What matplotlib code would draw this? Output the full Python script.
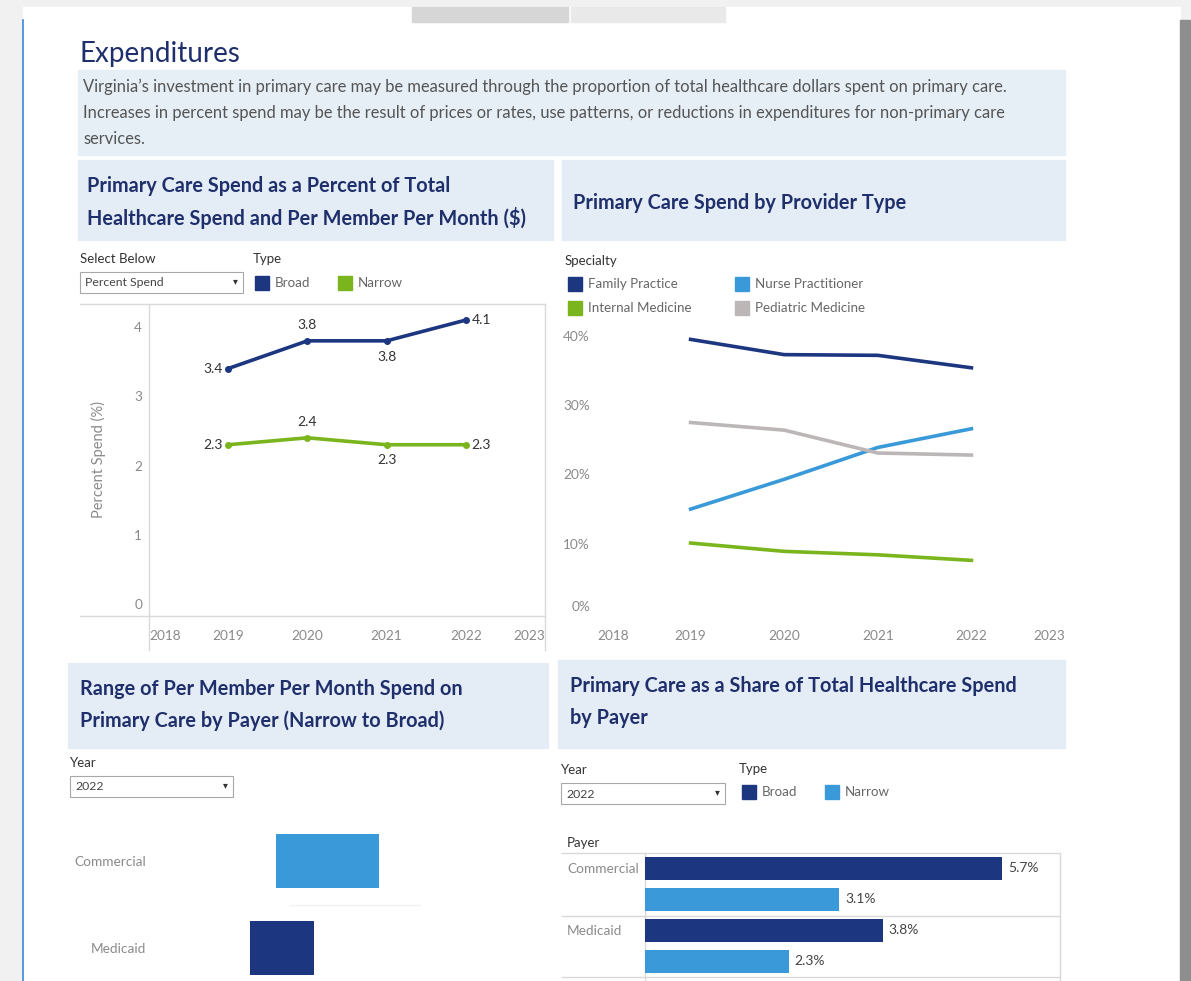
import matplotlib
matplotlib.use("Agg")
import matplotlib.pyplot as plt
from matplotlib.patches import Rectangle

plt.rcParams['font.family'] = ['Lato', 'DejaVu Sans']

# ---- data ----
years = [2019, 2020, 2021, 2022]
broad_pct = [3.4, 3.8, 3.8, 4.1]
narrow_pct = [2.3, 2.4, 2.3, 2.3]

specialties = ["Family Practice", "Nurse Practitioner", "Internal Medicine", "Pediatric Medicine"]
family_practice = [39.5, 37.3, 37.2, 35.4]
nurse_practitioner = [15.0, 19.3, 23.9, 26.6]
internal_medicine = [10.1, 8.9, 8.4, 7.6]
pediatric_medicine = [27.5, 26.4, 23.1, 22.8]

payers = ["Commercial", "Medicaid"]
pmpm_low = [21.2, 16.0]     # narrow end of the range ($)
pmpm_high = [41.8, 28.8]    # broad end of the range ($)

share_broad = [5.7, 3.8]
share_narrow = [3.1, 2.3]

NAVY = "#1d3680"
LBLUE = "#3a9ad9"
GREEN = "#7ab51d"
GRAY = "#bdb6b6"
TITLE = "#1f2f6b"
TFS = 14.3  # chart title size

W, H = 1191, 981
fig = plt.figure(figsize=(W / 100, H / 100), dpi=100)


def px_axes(x0, y0, x1, y1):
    return fig.add_axes([x0 / W, 1 - y1 / H, (x1 - x0) / W, (y1 - y0) / H])


# background / page drawing layer
bg = fig.add_axes([0, 0, 1, 1])
bg.set_xlim(0, W)
bg.set_ylim(H, 0)
bg.axis("off")
bg.add_patch(Rectangle((0, 0), W, H, color="#f1f1f1"))
bg.add_patch(Rectangle((23, 7), 1157, H, color="white"))
bg.add_patch(Rectangle((1180, 20), 11, H, color="#8e8e8e"))
bg.add_patch(Rectangle((412, 7), 156, 15, color="#d6d6d6"))
bg.add_patch(Rectangle((571, 7), 154, 15, color="#e9e9e9"))
bg.plot([23, 23], [20, H], color="#3a8ad9", lw=1.2)

# header
bg.text(79, 54, "Expenditures", fontsize=20, color=TITLE, va="center")
bg.add_patch(Rectangle((78, 70), 987, 85, color="#e6eff6"))
desc = ["Virginia\u2019s investment in primary care may be measured through the proportion of total healthcare dollars spent on primary care.",
        "Increases in percent spend may be the result of prices or rates, use patterns, or reductions in expenditures for non-primary care",
        "services."]
for i, line in enumerate(desc):
    bg.text(83, 87 + 26 * i, line, fontsize=11.9, color="#555555", va="center")

# title boxes
bg.add_patch(Rectangle((78, 160), 475, 80, color="#e4edf5"))
bg.text(87, 186, "Primary Care Spend as a Percent of Total", fontsize=TFS, fontweight="bold", color=TITLE, va="center")
bg.text(87, 218, "Healthcare Spend and Per Member Per Month ($)", fontsize=TFS, fontweight="bold", color=TITLE, va="center")
bg.add_patch(Rectangle((562, 160), 503, 80, color="#e4edf5"))
bg.text(573, 203, "Primary Care Spend by Provider Type", fontsize=TFS, fontweight="bold", color=TITLE, va="center")
bg.add_patch(Rectangle((68, 663), 480, 85, color="#e4edf5"))
bg.text(80, 689, "Range of Per Member Per Month Spend on", fontsize=TFS, fontweight="bold", color=TITLE, va="center")
bg.text(80, 721, "Primary Care by Payer (Narrow to Broad)", fontsize=TFS, fontweight="bold", color=TITLE, va="center")
bg.add_patch(Rectangle((558, 660), 507, 88, color="#e4edf5"))
bg.text(570, 686, "Primary Care as a Share of Total Healthcare Spend", fontsize=TFS, fontweight="bold", color=TITLE, va="center")
bg.text(570, 718, "by Payer", fontsize=TFS, fontweight="bold", color=TITLE, va="center")


def dropdown(x, y, w, label, value):
    bg.text(x, y - 13, label, fontsize=9.5, color="#333333", va="center")
    bg.add_patch(Rectangle((x, y), w, 21, facecolor="white", edgecolor="#a8a8a8", lw=0.8))
    bg.text(x + 5, y + 11, value, fontsize=8.8, color="#444444", va="center")
    bg.text(x + w - 8, y + 10, "\u25be", fontsize=7, color="#333333", va="center", ha="center")


def legend_item(x, y, color, label):
    bg.add_patch(Rectangle((x, y - 7), 14, 14, color=color))
    bg.text(x + 20, y, label, fontsize=9.6, color="#666666", va="center")


# top-left controls
dropdown(80, 272, 163, "Select Below", "Percent Spend")
bg.text(253, 259, "Type", fontsize=9.5, color="#333333", va="center")
legend_item(255, 283, NAVY, "Broad")
legend_item(338, 283, GREEN, "Narrow")

# top-right legend
bg.text(565, 261, "Specialty", fontsize=9.5, color="#333333", va="center")
legend_item(568, 284, NAVY, "Family Practice")
legend_item(735, 284, LBLUE, "Nurse Practitioner")
legend_item(568, 308, GREEN, "Internal Medicine")
legend_item(735, 308, GRAY, "Pediatric Medicine")

# bottom controls
dropdown(70, 776, 163, "Year", "2022")
dropdown(561, 783, 164, "Year", "2022")
bg.text(739, 769, "Type", fontsize=9.5, color="#333333", va="center")
legend_item(742, 792, NAVY, "Broad")
legend_item(825, 792, LBLUE, "Narrow")
bg.text(567, 843, "Payer", fontsize=9.5, color="#333333", va="center")

# frame lines of top-left chart
LN = "#d9d9d9"
bg.plot([80, 545], [304, 304], color=LN, lw=1)
bg.plot([80, 545], [616, 616], color=LN, lw=1)
bg.plot([149, 149], [304, 650], color=LN, lw=1)
bg.plot([545, 545], [304, 650], color=LN, lw=1)

# table lines of bottom-right chart
bg.plot([562, 1060], [853, 853], color=LN, lw=1)
bg.plot([562, 1060], [916, 916], color=LN, lw=1)
bg.plot([562, 1060], [977, 977], color=LN, lw=1)
bg.plot([645, 645], [853, H], color=LN, lw=1)
bg.plot([1060, 1060], [853, H], color=LN, lw=1)
bg.plot([290, 420], [905, 905], color="#f2f2f2", lw=1)


def clean(ax):
    ax.patch.set_alpha(0)
    for s in ax.spines.values():
        s.set_visible(False)
    ax.tick_params(length=0, labelsize=9.8, colors="#8a8a8a")


# ---- top-left: percent spend lines ----
ax1 = px_axes(149, 304, 545, 616)
clean(ax1)
ax1.plot(years, broad_pct, color=NAVY, lw=2.6, marker="o", ms=4)
ax1.plot(years, narrow_pct, color=GREEN, lw=2.6, marker="o", ms=4)
ax1.set_xlim(2018, 2023)
ax1.set_ylim(-0.173, 4.332)
ax1.set_yticks([0, 1, 2, 3, 4])
ax1.tick_params(axis="y", pad=5)
ax1.set_xticks(range(2018, 2024))
ax1.tick_params(axis="x", pad=10)
xl = ax1.get_xticklabels()
xl[0].set_ha("left")
xl[-1].set_ha("right")
ax1.set_ylabel("Percent Spend (%)", fontsize=10.5, color="#8a8a8a", labelpad=20)
offsets = [((-4, 0), "right", "center"), ((0, 7), "center", "bottom"),
           ((0, -7), "center", "top"), ((4, 0), "left", "center")]
for series in (broad_pct, narrow_pct):
    for (yr, v), (off, ha, va) in zip(zip(years, series), offsets):
        ax1.annotate(f"{v:.1f}", (yr, v), xytext=off, textcoords="offset points",
                     ha=ha, va=va, fontsize=10, color="#333333")

# ---- top-right: provider type lines ----
ax2 = px_axes(597, 320, 1065, 618)
clean(ax2)
for vals, col in zip([family_practice, nurse_practitioner, internal_medicine, pediatric_medicine],
                     [NAVY, LBLUE, GREEN, GRAY]):
    ax2.plot(years, vals, color=col, lw=2.6)
ax2.set_xlim(2018, 2023)
ax2.set_ylim(-0.72, 42.3)
ax2.set_yticks([0, 10, 20, 30, 40])
ax2.set_yticklabels(["0%", "10%", "20%", "30%", "40%"])
ax2.get_yticklabels()[0].set_va("bottom")
ax2.tick_params(axis="y", pad=5)
ax2.set_xticks(range(2018, 2024))
ax2.tick_params(axis="x", pad=9)
xl = ax2.get_xticklabels()
xl[0].set_ha("left")
xl[-1].set_ha("right")

# ---- bottom-left: PMPM range bars ----
ax3 = px_axes(170, 815, 420, H)
clean(ax3)
rows = range(len(payers))
ax3.barh(rows, [h - l for l, h in zip(pmpm_low, pmpm_high)], left=pmpm_low,
         height=0.62, color=[LBLUE, NAVY])
ax3.set_xlim(0, 50)
ax3.set_ylim(1.38, -0.53)
ax3.set_xticks([])
ax3.set_yticks(list(rows))
ax3.set_yticklabels(payers)
ax3.tick_params(axis="y", pad=17)

# ---- bottom-right: share by payer ----
ax4 = px_axes(645, 853, 1060, H)
clean(ax4)
pos_b = [0, 2]
pos_n = [1, 3]
ax4.barh(pos_b, share_broad, height=0.74, color=NAVY)
ax4.barh(pos_n, share_narrow, height=0.74, color=LBLUE)
for p, v in zip(pos_b + pos_n, share_broad + share_narrow):
    ax4.annotate(f"{v:.1f}%", (v, p), xytext=(4, 0), textcoords="offset points",
                 ha="left", va="center", fontsize=10, color="#444444")
ax4.set_xlim(0, 6.62)
ax4.set_ylim(3.63, -0.5)
ax4.set_xticks([])
ax4.set_yticks([0, 2])
ax4.set_yticklabels(payers)
for t in ax4.get_yticklabels():
    t.set_ha("left")
ax4.tick_params(axis="y", pad=56)

fig.savefig("out.png", dpi=100)
